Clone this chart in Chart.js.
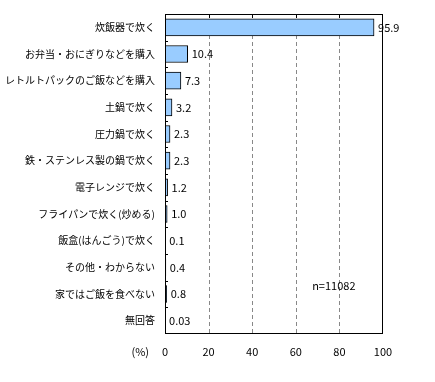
<!DOCTYPE html>
<html><head><meta charset="utf-8">
<script src="https://cdn.jsdelivr.net/npm/chart.js@4"></script>
<style>html,body{margin:0;padding:0;background:#fff}#w{width:435px;height:382px}</style>
</head><body><div id="w"><canvas id="c" width="435" height="382"></canvas></div>
<script>
const categories = ["炊飯器で炊く","お弁当・おにぎりなどを購入","レトルトパックのご飯などを購入","土鍋で炊く","圧力鍋で炊く","鉄・ステンレス製の鍋で炊く","電子レンジで炊く","フライパンで炊く(炒める)","飯盒(はんごう)で炊く","その他・わからない","家ではご飯を食べない","無回答"];
const values = [95.9,10.4,7.3,3.2,2.3,2.3,1.2,1.0,0.1,0.4,0.8,0.03];
const valueLabels = ["95.9","10.4","7.3","3.2","2.3","2.3","1.2","1.0","0.1","0.4","0.8","0.03"];
const xTicks = [0,20,40,60,80,100];
const unitLabel = "(%)";
const sampleNote = "n=11082";

const CJK = '"Noto Sans CJK JP", "DejaVu Sans", sans-serif';
const deco = {
  id:'deco',
  beforeDatasetsDraw(chart){
    const {ctx, chartArea:a, scales:{x}} = chart;
    ctx.save();
    ctx.strokeStyle='#888'; ctx.lineWidth=1; ctx.setLineDash([4,3]);
    ctx.beginPath();
    xTicks.slice(1,-1).forEach(v=>{const px=Math.round(x.getPixelForValue(v))+0.5; ctx.moveTo(px,a.top); ctx.lineTo(px,a.bottom);});
    ctx.stroke();
    ctx.restore();
  },
  afterDatasetsDraw(chart){
    const {ctx, chartArea:a, scales:{x,y}} = chart;
    ctx.save();
    ctx.strokeStyle='#000'; ctx.lineWidth=1;
    ctx.strokeRect(Math.round(a.left)+0.5, Math.round(a.top)+0.5, Math.round(a.right-a.left)-1, Math.round(a.bottom-a.top)-1);
    ctx.beginPath();
    xTicks.slice(1,-1).forEach(v=>{const px=Math.round(x.getPixelForValue(v))+0.5; ctx.moveTo(px,a.top); ctx.lineTo(px,a.top+4);});
    for(let i=1;i<categories.length;i++){
      const py=Math.round((y.getPixelForValue(i-1)+y.getPixelForValue(i))/2)+0.5;
      ctx.moveTo(a.left,py); ctx.lineTo(a.left+3,py);
    }
    ctx.stroke();
    ctx.fillStyle='#000'; ctx.textBaseline='middle'; ctx.textAlign='right';
    ctx.font='10px '+CJK;
    categories.forEach((c,i)=>{ ctx.fillText(c, a.left-10, y.getPixelForValue(i)); });
    ctx.font='11px '+CJK; ctx.textAlign='left';
    const meta=chart.getDatasetMeta(0);
    meta.data.forEach((b,i)=>{ ctx.fillText(valueLabels[i], Math.max(b.x, a.left)+4, b.y); });
    // x tick labels
    ctx.textAlign='center';
    xTicks.forEach(v=>{ ctx.fillText(String(v), x.getPixelForValue(v), a.bottom+18); });
    ctx.textAlign='right';
    ctx.fillText(unitLabel, 149, a.bottom+18);
    ctx.textAlign='left';
    ctx.fillText(sampleNote, x.getPixelForValue(67.5), y.getPixelForValue(9.7));
    ctx.restore();
  }
};

new Chart(document.getElementById('c'), {
  type:'bar',
  data:{labels:categories, datasets:[{data:values, backgroundColor:'#99CCFF', borderColor:'#000', borderWidth:1, borderSkipped:'left', barThickness:17}]},
  options:{
    indexAxis:'y', responsive:false, animation:false,
    layout:{padding:{top:14,right:52,left:0,bottom:0}},
    plugins:{legend:{display:false}, tooltip:{enabled:false}},
    scales:{
      x:{min:0,max:100, afterBuildTicks(s){s.ticks=xTicks.map(v=>({value:v}));},
        afterFit(s){s.height=48;},
        grid:{display:false}, border:{display:false},
        ticks:{display:false}},
      y:{afterFit(s){s.width=165;}, grid:{display:false}, border:{display:false},
        ticks:{display:false}}
    }
  },
  plugins:[deco]
});
</script></body></html>
